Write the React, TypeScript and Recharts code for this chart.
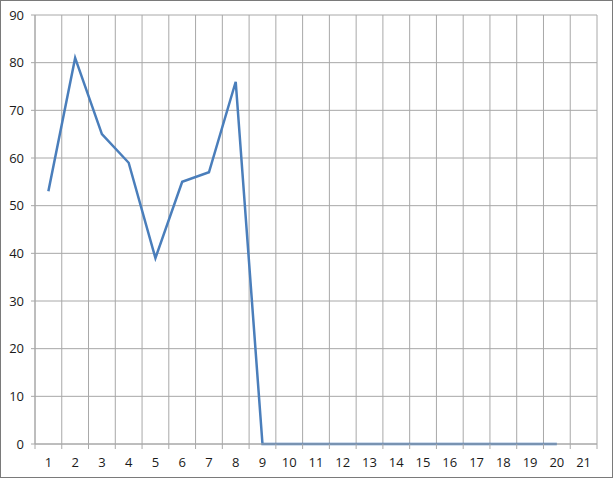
import { CartesianGrid, Line, LineChart, XAxis, YAxis } from "recharts";

const categories = ["1", "2", "3", "4", "5", "6", "7", "8", "9", "10", "11", "12", "13", "14", "15", "16", "17", "18", "19", "20", "21"];
const values: (number | null)[] = [53, 81, 65, 59, 39, 55, 57, 76, 0, 0, 0, 0, 0, 0, 0, 0, 0, 0, 0, 0, null];
const yTicks = [0, 10, 20, 30, 40, 50, 60, 70, 80, 90];

const data = categories.map((c, i) => ({ cat: c, v: values[i] }));

const W = 611;
const H = 476;
const M = { top: 14, right: 15, left: 0, bottom: 0 };
const Y_W = 34;
const X_H = 33;
const PLOT_W = W - Y_W - M.right;
const BAND = PLOT_W / categories.length;

const GRID = "#a8a8a8";
const FONT = "'Open Sans', sans-serif";

function XTick(props: any) {
  const { x, y, payload, index } = props;
  const last = index === categories.length - 1;
  return (
    <g>
      <line x1={x - BAND / 2} x2={x - BAND / 2} y1={y} y2={y + 5} stroke={GRID} />
      {last && <line x1={x + BAND / 2} x2={x + BAND / 2} y1={y} y2={y + 5} stroke={GRID} />}
      <text x={x} y={y + 23} textAnchor="middle" fontSize={13} fontFamily={FONT} fill="#1a1a1a">
        {payload.value}
      </text>
    </g>
  );
}

export default function App() {
  return (
    <div style={{ width: 613, height: 478, border: "1px solid #7a7a7a", boxSizing: "border-box", background: "#fff" }}>
      <style>{`body{margin:0}`}</style>
      <LineChart width={W} height={H} data={data} margin={M}>
        <CartesianGrid
          stroke={GRID}
          verticalCoordinatesGenerator={({ offset }: any) =>
            categories.concat([""]).map((_, i) => offset.left + (i * offset.width) / categories.length)
          }
        />
        <XAxis
          dataKey="cat"
          height={X_H}
          padding={{ left: BAND / 2, right: BAND / 2 }}
          interval={0}
          tickLine={false}
          tickSize={0}
          tickMargin={0}
          axisLine={{ stroke: GRID }}
          tick={<XTick />}
        />
        <YAxis
          width={Y_W}
          domain={[0, 90]}
          ticks={yTicks}
          interval={0}
          tickSize={4}
          tickMargin={7}
          axisLine={{ stroke: GRID }}
          tickLine={{ stroke: GRID }}
          tick={{ fontSize: 13, fontFamily: FONT, fill: "#1a1a1a" }}
        />
        <Line
          type="linear"
          dataKey="v"
          stroke="#4a7ebb"
          strokeWidth={2.5}
          dot={false}
          isAnimationActive={false}
        />
      </LineChart>
    </div>
  );
}
